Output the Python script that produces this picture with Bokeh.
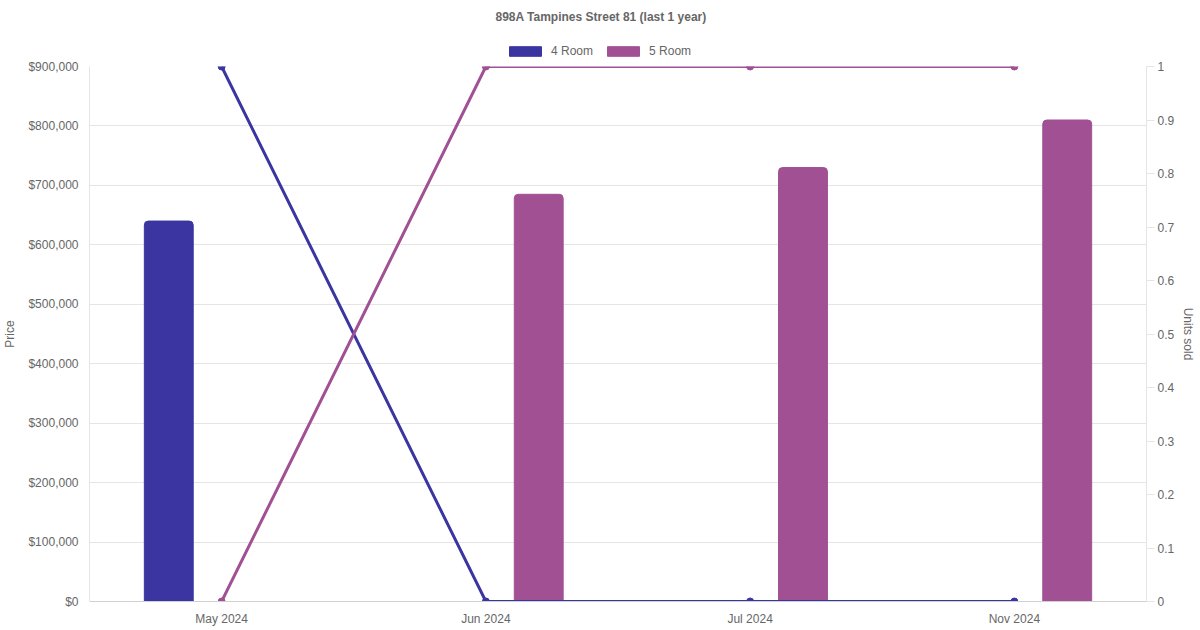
from bokeh.plotting import figure
from bokeh.layouts import column
from bokeh.models import (FactorRange, Range1d, LinearAxis, NumeralTickFormatter,
                          CustomJSTickFormatter, FixedTicker, Legend, LegendItem,
                          ColumnDataSource)
from bokeh.transform import dodge
from bokeh.embed import file_html
from bokeh.resources import INLINE

# ---- data ----
title_text = "898A Tampines Street 81 (last 1 year)"
months = ["May 2024", "Jun 2024", "Jul 2024", "Nov 2024"]
series_names = ["4 Room", "5 Room"]
price_4room = [640000, None, None, None]
price_5room = [None, 685000, 730000, 810000]
units_4room = [1, 0, 0, 0]
units_5room = [0, 1, 1, 1]
price_ticks = [0, 100000, 200000, 300000, 400000, 500000, 600000, 700000, 800000, 900000]
units_ticks = [0, 0.1, 0.2, 0.3, 0.4, 0.5, 0.6, 0.7, 0.8, 0.9, 1]

C4 = "#3A35A0"
C5 = "#A05093"
TXT = "#666666"
GRID = "#E5E5E5"
FONT = "Liberation Sans"

W = 1200
HEADER_H = 58
MAIN_H = 572

s4 = ColumnDataSource(dict(x=[m for m, v in zip(months, price_4room) if v is not None],
                           top=[v for v in price_4room if v is not None]))
s5 = ColumnDataSource(dict(x=[m for m, v in zip(months, price_5room) if v is not None],
                           top=[v for v in price_5room if v is not None]))

# ---------- header: title + legend ----------
h = figure(width=W, height=HEADER_H, output_backend="svg", toolbar_location=None,
           x_range=FactorRange(*months), y_range=Range1d(0, 1),
           x_axis_type=None, y_axis_type=None,
           min_border_left=0, min_border_right=0, min_border_top=0, min_border_bottom=0)
h.outline_line_color = None
h.xgrid.grid_line_color = None
h.ygrid.grid_line_color = None
h.title.text = title_text
h.title.align = "left"
h.title.offset = 406
h.title.text_font = FONT
h.title.text_font_size = "12px"
h.title.text_font_style = "bold"
h.title.text_color = TXT
h.title.standoff = 15

lg4 = h.vbar(x="x", top="top", width=0.1, source=s4, fill_color=C4, line_color=C4, visible=False)
lg5 = h.vbar(x="x", top="top", width=0.1, source=s5, fill_color=C5, line_color=C5, visible=False)
legend = Legend(items=[LegendItem(label=series_names[0], renderers=[lg4]),
                       LegendItem(label=series_names[1], renderers=[lg5])],
                orientation="horizontal", location=(416, 0))
legend.glyph_width = 40
legend.glyph_height = 12
legend.label_text_font = FONT
legend.label_text_font_size = "12px"
legend.label_text_color = TXT
legend.border_line_color = None
legend.background_fill_alpha = 0
legend.inactive_fill_alpha = 0
legend.spacing = 10
legend.padding = 2
legend.margin = 0
legend.label_standoff = 6
h.add_layout(legend, "center")

# ---------- main chart ----------
p = figure(x_range=FactorRange(*months), y_range=Range1d(0, 900000),
           width=W, height=MAIN_H, output_backend="svg", toolbar_location=None,
           min_border_left=88, min_border_right=54, min_border_bottom=29, min_border_top=8)
p.outline_line_color = None
p.background_fill_color = "white"
p.extra_y_ranges = {"units": Range1d(0, 1)}

p.vbar(x=dodge("x", -0.2, range=p.x_range), top="top", width=0.185, source=s4,
       fill_color=C4, line_color=C4, border_radius=(4, 4, 0, 0))
p.vbar(x=dodge("x", 0.2, range=p.x_range), top="top", width=0.185, source=s5,
       fill_color=C5, line_color=C5, border_radius=(4, 4, 0, 0))

p.line(months, units_4room, y_range_name="units", line_color=C4, line_width=3)
p.scatter(months, units_4room, y_range_name="units", size=7, fill_color=C4, line_color=C4)
p.line(months, units_5room, y_range_name="units", line_color=C5, line_width=3)
p.scatter(months, units_5room, y_range_name="units", size=7, fill_color=C5, line_color=C5)

p.xgrid.grid_line_color = None
p.ygrid.grid_line_color = GRID
p.ygrid.ticker = FixedTicker(ticks=price_ticks)

ya = p.yaxis[0]
ya.ticker = FixedTicker(ticks=price_ticks)
ya.formatter = NumeralTickFormatter(format="$0,0")
ya.axis_label = "Price"

ra = LinearAxis(y_range_name="units", ticker=FixedTicker(ticks=units_ticks),
                formatter=CustomJSTickFormatter(code="return (Math.round(tick*10)/10).toString();"),
                axis_label="Units sold")
p.add_layout(ra, "right")

xa = p.xaxis[0]

for ax in [ya, ra, xa]:
    ax.major_label_text_font = FONT
    ax.major_label_text_font_size = "12px"
    ax.major_label_text_color = TXT
    ax.axis_label_text_font = FONT
    ax.axis_label_text_font_size = "12px"
    ax.axis_label_text_font_style = "normal"
    ax.axis_label_text_color = TXT
    ax.axis_line_color = GRID
    ax.minor_tick_line_color = None
    ax.major_tick_line_color = GRID
    ax.major_tick_in = 0

ya.major_tick_out = 0
ya.major_label_standoff = 11
ya.axis_label_standoff = 8
ra.major_tick_out = 8
ra.major_label_standoff = 3
ra.axis_label_standoff = 4
xa.major_tick_out = 0
xa.major_label_standoff = 10
xa.axis_line_color = "#D0D0D0"

layout = column(h, p, spacing=0)
open("out.html", "w").write(file_html(layout, INLINE))
